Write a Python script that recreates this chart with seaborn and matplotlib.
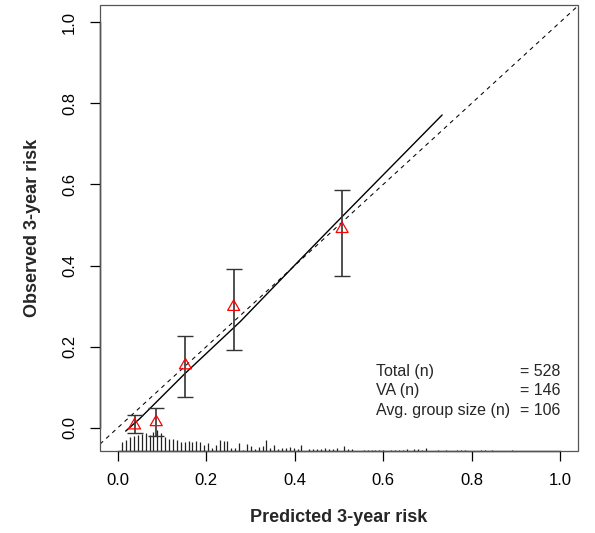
import numpy as np
import matplotlib
matplotlib.use("Agg")
import matplotlib.pyplot as plt
import seaborn as sns
from matplotlib.path import Path
from matplotlib.patches import Rectangle
from matplotlib.markers import MarkerStyle

# grouped calibration points (predicted vs observed, with CI)
pred_group = [0.038, 0.087, 0.153, 0.262, 0.507]
obs_group = [0.006, 0.014, 0.154, 0.298, 0.490]
ci_low = [-0.013, -0.020, 0.075, 0.192, 0.374]
ci_high = [0.032, 0.0485, 0.227, 0.392, 0.587]

# smoothed calibration curve
smooth_x = [0.018, 0.05, 0.153, 0.277, 0.413, 0.507, 0.733]
smooth_y = [-0.008, 0.023, 0.135, 0.262, 0.4155, 0.5205, 0.771]

# spike histogram of predicted risk (101 bins)
bin_first = 0.0104
bin_width = 0.0088
spike_height = [9, 11, 14, 15, 16, 17, 18, 16, 19, 21, 18, 14, 12, 12, 11, 9, 9, 10, 9, 10, 9, 6,
                8.3, 3, 6.3, 11.3, 9.7, 10, 3, 3.3, 8.3, 1.3, 7.3, 5, 2.3, 4, 5, 11.3, 3, 5.7, 2.3,
                3, 3, 3.7, 3, 1.7, 5.7,
                0, 2, 2.5, 2.5, 2.5, 3, 2, 2.5, 3, 0, 4.7, 2.5, 2.5, 0, 0, 1.5, 1.5, 1.5, 1.5, 1.5,
                1.5, 0, 1.5, 1,
                1.5, 1.5, 2.5, 0, 2, 2, 1.5, 3.5, 0, 0, 1, 0, 1, 0, 0, 1.5, 1.5, 1.5, 0, 0, 0, 1, 1,
                0, 1, 0, 0, 0, 0, 1]
spike_x = bin_first + bin_width * np.arange(len(spike_height))

text_left = ["Total (n)", "VA (n)", "Avg. group size (n)"]
text_right = ["= 528", "= 146", "= 106"]

ticks = [0.0, 0.2, 0.4, 0.6, 0.8, 1.0]

sns.set_style("ticks")
plt.rcParams['font.family'] = ['Liberation Sans', 'DejaVu Sans']

fig = plt.figure(figsize=(5.95, 5.33), dpi=100)
ax = fig.add_axes([100 / 595, 82 / 533, 478 / 595, 446 / 533])

y_bottom = -0.057
ax.set_xlim(-0.04, 1.04)
ax.set_ylim(y_bottom, 1.042)

# spikes at the bottom
spike_h = np.array(spike_height) / 406.0
ax.vlines(spike_x, y_bottom, y_bottom + spike_h, color="#222222", lw=0.9)

# ideal line
ax.axline((0, 0), (1, 1), color="black", lw=0.75, ls=(0, (4, 4)))

# smooth curve
sns.lineplot(x=smooth_x, y=smooth_y, sort=False, estimator=None, color="black", lw=1.0, ax=ax)

# error bars
obs = np.array(obs_group)
ax.errorbar(pred_group, obs, yerr=[obs - np.array(ci_low), np.array(ci_high) - obs],
            fmt="none", ecolor="#333333", elinewidth=1.2, capsize=6, capthick=1.0)

# open red triangles (R pch=2 geometry)
tri = MarkerStyle(Path([(0, 1.555), (1.347, -0.778), (-1.347, -0.778), (0, 1.555)], closed=True))
sns.scatterplot(x=pred_group, y=obs_group, marker=tri, s=10 ** 2, facecolor="none",
                edgecolor="red", linewidth=0.9, ax=ax, zorder=5)

# text block
rows_y = [0.140, 0.091, 0.044]
for lt, rt, yy in zip(text_left, text_right, rows_y):
    ax.text(0.584, yy, lt, ha="left", va="center", fontsize=11.5)
    ax.text(1.0, yy, rt, ha="right", va="center", fontsize=11.5)

# axes styling: R-like box + axis lines
for s in ["top", "right"]:
    ax.spines[s].set_visible(False)
for s in ["left", "bottom"]:
    ax.spines[s].set_bounds(0, 1)
    ax.spines[s].set_color("black")
    ax.spines[s].set_linewidth(1.0)
ax.add_patch(Rectangle((0, 0), 1, 1, transform=ax.transAxes, fill=False,
                       ec="#555555", lw=0.9, clip_on=False, zorder=6))

ax.set_xticks(ticks)
ax.set_yticks(ticks)
ax.set_xticklabels([f"{t:.1f}" for t in ticks])
ax.set_yticklabels([f"{t:.1f}" for t in ticks], rotation=90, va="center")
ax.tick_params(axis="both", length=7.5, width=0.9, color="black", labelsize=12, labelcolor="black")
ax.tick_params(axis="x", pad=8)
ax.tick_params(axis="y", pad=9)

ax.set_xlabel("Predicted 3-year risk", fontsize=13, fontweight="bold")
ax.set_ylabel("Observed 3-year risk", fontsize=13, fontweight="bold")
ax.xaxis.label.set_va("center")
ax.yaxis.label.set_va("center")
ax.xaxis.set_label_coords(0.5, -0.148)
ax.yaxis.set_label_coords(-0.142, 0.5)

fig.savefig("out.png", dpi=100)
